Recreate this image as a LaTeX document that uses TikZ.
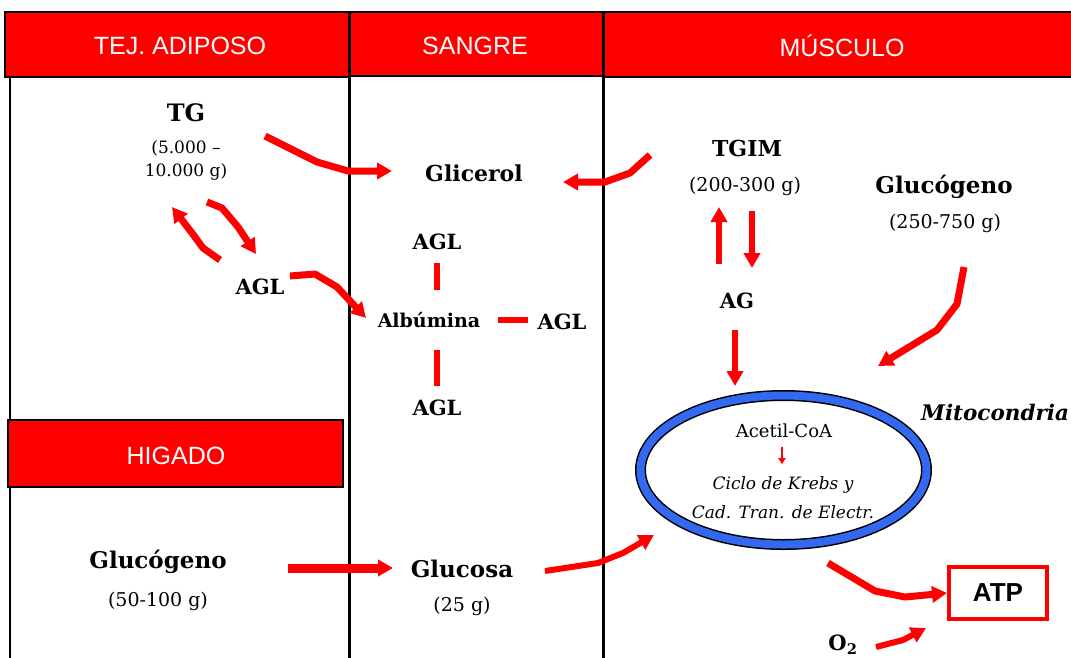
\documentclass[tikz,border=0pt]{standalone}
\usepackage{fontspec}
\setmainfont{DejaVu Serif}
\newfontfamily\hdr{Liberation Sans}
\usetikzlibrary{arrows.meta}
\definecolor{hred}{RGB}{255,0,0}
\definecolor{mblue}{RGB}{50,105,240}
\tikzset{
  hbox/.style={draw=black, line width=1.5pt, fill=hred},
  htext/.style={text=white, font=\hdr\fontsize{25}{28}\selectfont},
  lbl/.style={font=\bfseries\fontsize{23}{26}\selectfont, inner sep=0pt},
  agl/.style={font=\bfseries\fontsize{21}{24}\selectfont, inner sep=0pt},
  amt/.style={font=\fontsize{19}{22}\selectfont, inner sep=0pt},
  mtext/.style={font=\itshape\fontsize{17}{20}\selectfont, inner sep=0pt},
  rarrow/.style={draw=hred, line width=7pt, line join=round, -{Triangle[length=15pt,width=16pt]}},
  rline/.style={draw=hred, line width=6pt},
  sep/.style={draw=black, line width=3pt},
}
\begin{document}
\begin{tikzpicture}[x=1pt,y=-1pt]
\useasboundingbox (0,0) rectangle (1071,657);
% headers
\draw[hbox] (5,12) rectangle (349,77);
\draw[hbox] (349,12) rectangle (603,76);
\draw[hbox] (603,12) rectangle (1075,77);
\node[htext] (h1) at (180,46) {TEJ. ADIPOSO};
\node[htext] (h2) at (475,46) {SANGRE};
\node[htext] (h3) at (842,46) {MÚSCULO};
% separators
\draw[black, line width=2pt] (10,77) -- (10,660);
\draw[sep] (349,12) -- (349,660);
\draw[sep] (603,12) -- (603,660);
\draw[hbox] (8,420) rectangle (343,487);
\node[htext] (h4) at (176,456) {HIGADO};
% labels
\node[lbl, font=\bfseries\fontsize{24}{27}\selectfont] (tg) at (186,113) {TG};
\node[font=\fontsize{17}{23}\selectfont, align=center, inner sep=0pt] (tga) at (186,160) {(5.000 –\\10.000 g)};
\node[agl] (aglL) at (260,287) {AGL};
\node[lbl, font=\bfseries\fontsize{22}{25}\selectfont] (glic) at (474,173) {Glicerol};
\node[agl] (aglT) at (437,242) {AGL};
\node[lbl, font=\bfseries\fontsize{19}{22}\selectfont] (alb) at (429,320) {Albúmina};
\node[agl] (aglR) at (562,322) {AGL};
\node[agl] (aglB) at (437,408) {AGL};
\node[lbl, font=\bfseries\fontsize{22}{25}\selectfont] (tgim) at (747,148) {TGIM};
\node[amt] (tgima) at (745,186) {(200-300 g)};
\node[lbl] (glm) at (944,187) {Glucógeno};
\node[amt] (glma) at (945,223) {(250-750 g)};
\node[agl] (ag) at (737,301) {AG};
\node[lbl] (glh) at (158,562) {Glucógeno};
\node[amt] (glha) at (158,601) {(50-100 g)};
\node[lbl] (glu) at (462,569) {Glucosa};
\node[amt] (glua) at (462,606) {(25 g)};
% mitochondria
\draw[black, line width=11pt] (783.5,470) ellipse [x radius=143, y radius=74.5];
\draw[mblue, line width=8pt] (783.5,470) ellipse [x radius=143, y radius=74.5];
\node[font=\fontsize{18}{21}\selectfont, inner sep=0pt] (acoa) at (784,431) {Acetil-CoA};
\node[mtext] (krebs) at (783,485) {Ciclo de Krebs y};
\node[mtext] (cad) at (783,512) {Cad. Tran. de Electr.};
\draw[hred, line width=1.8pt, -{Triangle[length=6pt,width=7pt]}] (acoa.south) ++(-2,9) -- ++(0,17) coordinate (ka);
\node[font=\bfseries\itshape\fontsize{21.5}{24}\selectfont, inner sep=0pt, anchor=west] (mito) at (921,412) {Mitocondria};
\node[draw=hred, line width=4pt, minimum width=98pt, minimum height=52pt, font=\hdr\bfseries\fontsize{26}{28}\selectfont] (atp) at (998,593) {ATP};
\node[font=\bfseries\fontsize{21}{24}\selectfont, inner sep=0pt] (o2) at (843,645) {O\textsubscript{2}};
% connection points
\coordinate (m1) at (392,171);
\coordinate (m2) at (563,182);
% arrows
\draw[rarrow] (265,136) -- (317,162) -- (348,171) -- (m1);
\draw[rarrow] (650,155) -- (630,173) -- (605,182) -- (m2);
\draw[rarrow] (220,260) -- (203,248) -- (192,233) -- (172,207);
\draw[rarrow] (207,202) -- (222,208) -- (238,227) -- (256,254);
\draw[rarrow] (290,276) -- (315,274) -- (337,287) -- (366,318);
\draw[rline] (aglT.south) ++(0,13) -- ++(0,27);
\draw[rline] (aglT |- alb.south) ++(0,22) -- ++(0,36);
\draw[rline] (alb.east) ++(18,0) -- ++(30,0);
\draw[rarrow, line width=6pt] (719,264) -- (719,207);
\draw[rarrow, line width=6pt] (752,211) -- (752,268);
\draw[rarrow, line width=6pt] (735,330) -- (735,386);
\draw[rarrow] (964,267) -- (957,304) -- (937,330) -- (878,366);
\draw[rarrow, line width=9pt] (288,568) -- (393,568);
\draw[rarrow, line width=6pt] (545,571) -- (598,563) -- (623,553) -- (654,535);
\draw[rarrow] (828,563) -- (875,591) -- (905,597) -- (atp.west);
\draw[rarrow, line width=6pt] (876,647) -- (903,640) -- (926,628);
\end{tikzpicture}
\end{document}
